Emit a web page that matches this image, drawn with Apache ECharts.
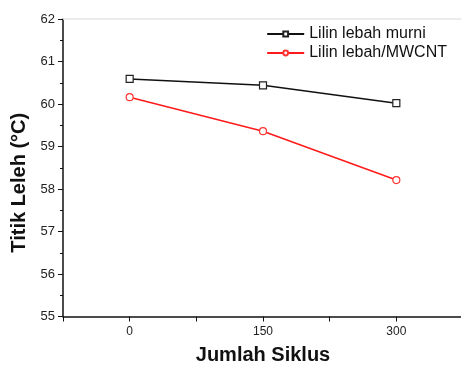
<!DOCTYPE html>
<html><head><meta charset="utf-8">
<script src="https://cdn.jsdelivr.net/npm/echarts@6/dist/echarts.min.js"></script>
<style>html,body{margin:0;padding:0;background:#fff;overflow:hidden}#c{width:461px;height:365px}</style>
</head><body><div id="c"></div>
<script>
const cycles = [0, 150, 300];
const murni = [60.59, 60.44, 60.02];
const mwcnt = [60.16, 59.36, 58.21];
const seriesNames = ['Lilin lebah murni', 'Lilin lebah/MWCNT'];
const xLabels = ['0', '150', '300'];

const font = 'Liberation Sans, Arial, sans-serif';
const chart = echarts.init(document.getElementById('c'));
chart.setOption({
  animation: false,
  backgroundColor: '#fff',
  grid: { left: 63, top: 19, width: 400, height: 297.5, show: false, containLabel: false, outerBoundsMode: 'none' },
  legend: {
    top: 21, right: 9, orient: 'vertical', itemGap: 3,
    itemWidth: 37, itemHeight: 6,
    textStyle: { fontFamily: font, fontSize: 16, color: '#111' },
    data: seriesNames.map(n => ({ name: n }))
  },
  xAxis: [{
    type: 'value', min: -75, max: 375, interval: 75,
    axisLine: { show: true, onZero: false, lineStyle: { color: '#111', width: 1.5 } },
    axisTick: { show: true, length: 5, inside: false, lineStyle: { color: '#111', width: 1 } },
    axisLabel: {
      fontFamily: font, fontSize: 12, color: '#222', margin: 9,
      formatter: v => { const s = String(v); return xLabels.includes(s) ? s : ''; }
    },
    splitLine: { show: false },
    name: 'Jumlah Siklus', nameLocation: 'middle', nameGap: 29,
    nameTextStyle: { fontFamily: font, fontSize: 20, fontWeight: 'bold', color: '#111' }
  }, {
    type: 'value', position: 'top', min: -75, max: 375,
    axisLine: { show: true, onZero: false, lineStyle: { color: '#e6e6e6', width: 1.5 } },
    axisTick: { show: false }, axisLabel: { show: false }, splitLine: { show: false }
  }],
  yAxis: {
    type: 'value', min: 55, max: 62, interval: 1,
    axisLine: { show: true, onZero: false, lineStyle: { color: '#111', width: 1.5 } },
    axisTick: { show: true, length: 5, lineStyle: { color: '#111', width: 1 } },
    minorTick: { show: true, splitNumber: 2, length: 3, lineStyle: { color: '#111', width: 1 } },
    axisLabel: { fontFamily: font, fontSize: 13, color: '#222', margin: 8 },
    splitLine: { show: false },
    name: 'Titik Leleh (°C)', nameLocation: 'middle', nameGap: 31,
    nameTextStyle: { fontFamily: font, fontSize: 20, fontWeight: 'bold', color: '#111', padding: [0, 30, 0, 0] }
  },
  series: [{
    name: seriesNames[0], type: 'line',
    data: cycles.map((c, i) => [c, murni[i]]),
    symbol: 'rect', symbolSize: 7, showAllSymbol: true,
    lineStyle: { color: '#111', width: 1.5 },
    itemStyle: { color: '#fff', borderColor: '#222', borderWidth: 1.2 }
  }, {
    name: seriesNames[1], type: 'line',
    data: cycles.map((c, i) => [c, mwcnt[i]]),
    symbol: 'circle', symbolSize: 7, showAllSymbol: true,
    lineStyle: { color: '#ff1a1a', width: 1.5 },
    itemStyle: { color: '#fff', borderColor: '#ff3333', borderWidth: 1.2 }
  }]
});
</script></body></html>
